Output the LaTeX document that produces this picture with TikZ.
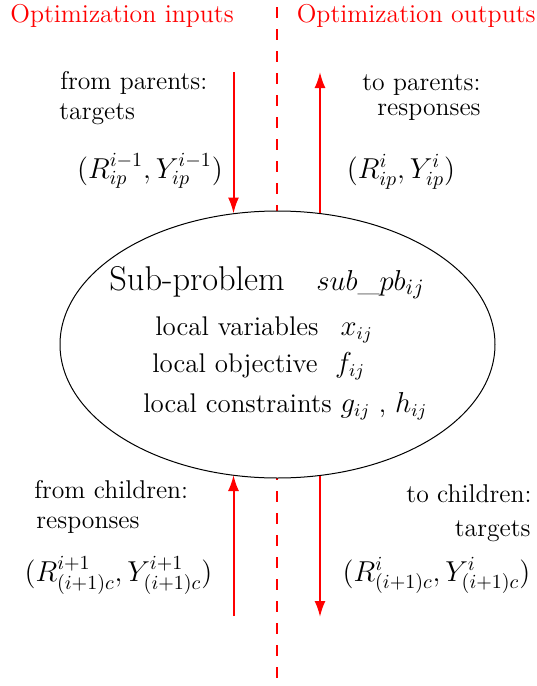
\documentclass[tikz,border=0pt]{standalone}
\usetikzlibrary{arrows.meta,shapes.geometric}
\begin{document}
\begin{tikzpicture}[x=0.5pt,y=-0.5pt,
  lbl/.style={inner sep=0pt, font=\fontsize{12.85}{15}\selectfont},
  frm/.style={inner sep=0pt, font=\fontsize{14.8}{17}\selectfont},
  ttl/.style={inner sep=0pt, text=red, font=\fontsize{12.9}{15}\selectfont},
  inl/.style={inner sep=0pt, font=\fontsize{13.5}{16}\selectfont},
  big/.style={inner sep=0pt, font=\fontsize{15.8}{19}\selectfont},
  flow/.style={red, line width=1pt, -{Latex[length=8pt,width=5.5pt]}},
  sep/.style={red, line width=1pt, dash pattern=on 5.5pt off 5.5pt, dash phase=-3.5pt},
  subpb/.style={draw, ellipse, line width=0.5pt, fill=white, inner sep=0pt,
    minimum width=217.5pt, minimum height=133.5pt}]
\useasboundingbox (0,0) rectangle (536,686);
% separator
\coordinate (dtop) at (277,0);
\coordinate (dbot) at (277,686);
\draw[sep] (dtop) -- (dbot);
% sub-problem ellipse
\node[subpb] (sp) at (277.5,344.5) {};
% titles
\node[ttl, anchor=base west] (tin) at (10,22) {Optimization inputs};
\node[ttl, anchor=base east] (tout) at (536,22) {Optimization outputs};
% ellipse texts
\node[big, anchor=base west] (t1) at (109,290) {{\fontsize{17.2}{20}\selectfont Sub-problem}\hspace{1em}$sub\_pb_{ij}$};
\node[inl, anchor=base west] (t2) at (155,335) {local variables\ \ \,$x_{ij}$};
\node[inl, anchor=base west] (t3) at (152,372) {local objective\ \ $f_{ij}$};
\node[inl, anchor=base west] (t4) at (143,412) {local constraints\,\,$g_{ij}$ , $h_{ij}$};
% top labels
\node[lbl, anchor=base west] (fp1) at (60,89.5) {from parents:};
\node[lbl, anchor=base west] (fp2) at (59,119) {targets};
\node[frm, anchor=base] (fpm) at (150,178) {$(R^{i-1}_{ip},Y^{i-1}_{ip})$};
\node[lbl, anchor=base east] (tp1) at (481,90.5) {to parents:};
\node[lbl, anchor=base east] (tp2) at (481,115.5) {responses};
\node[frm, anchor=base] (tpm) at (401,178) {$(R^{i}_{ip},Y^{i}_{ip})$};
% bottom labels
\node[lbl, anchor=base west] (fc1) at (34,498) {from children:};
\node[lbl, anchor=base west] (fc2) at (36,528) {responses};
\node[frm, anchor=base] (fcm) at (118.5,581) {$(R^{i+1}_{(i+1)c},Y^{i+1}_{(i+1)c})$};
\node[lbl, anchor=base east] (tc1) at (532,502.5) {to children:};
\node[lbl, anchor=base east] (tc2) at (531,536) {targets};
\node[frm, anchor=base] (tcm) at (436.5,581) {$(R^{i}_{(i+1)c},Y^{i}_{(i+1)c})$};
% arrow end points
\coordinate (a1) at (233.5,72);
\coordinate (e1) at (233.5,213.5);
\coordinate (a2) at (320,72);
\coordinate (e2) at (320,212.5);
\coordinate (a3) at (233.5,616);
\coordinate (e3) at (233.5,475);
\coordinate (a4) at (320,617);
\coordinate (e4) at (320,476);
\draw[flow] (a1) -- (e1);
\draw[flow] (e2) -- (a2);
\draw[flow] (a3) -- (e3);
\draw[flow] (e4) -- (a4);
\end{tikzpicture}
\end{document}
